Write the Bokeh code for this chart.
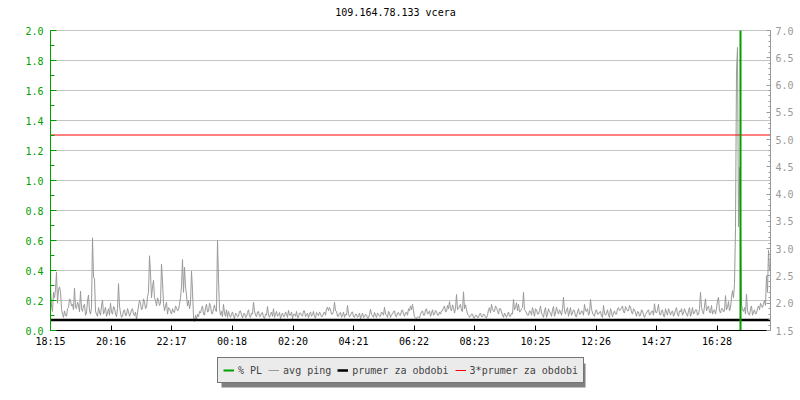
from bokeh.plotting import figure
from bokeh.models import (Range1d, LinearAxis, SingleIntervalTicker, FixedTicker,
                          PrintfTickFormatter, Legend, LegendItem, BoxAnnotation)
from bokeh.embed import file_html
from bokeh.resources import INLINE

# ---------------- data ----------------
title_text = "109.164.78.133 vcera"
start_label = "18:15"
period_minutes = 1440
tick_labels = ["18:15", "20:16", "22:17", "00:18", "02:20", "04:21",
               "06:22", "08:23", "10:25", "12:26", "14:27", "16:28"]

sample_minutes = 2  # one avg-ping sample every 2 minutes from 18:15 (one row = 1 hour)
ping_ms = [
    2.30, 1.95, 1.85, 2.20, 2.10, 2.25, 2.57, 2.00, 2.25, 2.30, 2.20, 1.90, 1.80, 1.74, 1.86,
    1.78, 1.76, 1.90, 1.92, 2.08, 2.05, 1.95, 1.98, 1.88, 2.28, 1.92, 1.90, 2.02, 1.97, 1.84,
    2.22, 1.90, 1.85, 1.96, 1.98, 1.78, 1.82, 2.04, 2.15, 1.86, 1.80, 1.92, 3.20, 2.48, 2.45,
    1.85, 1.80, 1.76, 1.92, 1.84, 1.78, 1.95, 2.06, 1.80, 1.85, 1.93, 1.76, 1.82, 1.90, 1.78,
    2.00, 1.84, 1.80, 1.94, 1.92, 1.80, 1.75, 1.90, 2.36, 1.95, 1.82, 1.74, 1.76, 1.86, 1.88,
    1.77, 1.78, 1.90, 1.85, 1.76, 1.80, 1.88, 1.90, 1.80, 1.77, 1.84, 1.70, 1.82, 1.95, 2.05,
    2.00, 1.88, 1.90, 2.08, 2.02, 1.90, 1.92, 2.12, 2.20, 2.87, 2.55, 2.10, 2.30, 2.42, 2.10,
    2.05, 1.95, 2.10, 2.05, 1.96, 2.00, 2.72, 2.40, 2.00, 1.86, 1.95, 2.02, 1.80, 1.92, 1.90,
    1.85, 1.80, 1.90, 1.84, 1.83, 1.95, 1.92, 1.86, 1.88, 1.98, 2.10, 2.31, 2.80, 2.20, 2.66,
    2.30, 2.15, 1.95, 2.05, 1.90, 2.00, 2.59, 2.23, 1.75, 1.66, 1.78, 1.70, 1.80, 1.75, 1.85,
    1.82, 1.90, 1.95, 1.80, 1.78, 1.92, 1.98, 1.84, 1.85, 2.00, 1.96, 1.82, 1.80, 1.90, 1.97,
    1.86, 1.85, 3.15, 2.43, 1.90, 1.78, 1.85, 1.75, 1.98, 1.82, 1.76, 1.88, 1.74, 1.85, 1.78,
    1.74, 1.80, 1.84, 1.76, 1.72, 1.82, 1.80, 1.75, 1.76, 1.85, 1.86, 1.78, 1.73, 1.80, 1.82,
    1.74, 1.75, 1.83, 1.88, 1.76, 1.74, 1.82, 1.80, 2.02, 1.86, 1.78, 1.75, 1.84, 1.85, 1.76,
    1.76, 1.82, 1.83, 1.74, 1.72, 1.80, 1.78, 1.94, 1.78, 1.74, 1.80, 1.84, 1.76, 1.90, 1.74,
    1.80, 1.85, 1.76, 1.78, 1.83, 1.72, 1.78, 1.82, 1.75, 1.76, 1.84, 1.80, 1.74, 1.87, 1.78,
    1.78, 1.84, 1.72, 1.80, 1.80, 1.76, 1.85, 1.74, 1.74, 1.82, 1.82, 1.78, 1.76, 1.86, 1.86,
    1.75, 1.78, 1.82, 1.73, 1.80, 1.84, 1.76, 1.79, 1.85, 1.75, 1.73, 1.83, 1.80, 1.77, 1.84,
    1.80, 1.75, 1.76, 1.82, 1.84, 1.78, 1.90, 1.93, 1.86, 1.92, 1.88, 1.80, 1.80, 1.85, 2.02,
    1.86, 1.85, 1.76, 1.76, 1.82, 1.83, 1.74, 1.78, 1.84, 1.74, 1.80, 1.78, 1.96, 1.80, 1.75,
    1.78, 1.83, 1.84, 1.75, 1.74, 1.80, 1.80, 1.74, 1.76, 1.82, 1.72, 1.77, 1.82, 1.74, 1.75,
    1.80, 1.78, 1.73, 1.73, 1.79, 1.89, 1.80, 1.77, 1.74, 1.83, 1.78, 1.74, 1.82, 1.80, 1.76,
    1.76, 1.84, 1.82, 1.78, 1.93, 1.80, 1.78, 1.74, 1.85, 1.82, 1.74, 1.79, 1.80, 1.85, 1.86,
    1.76, 1.75, 1.82, 1.83, 1.78, 1.78, 1.86, 1.88, 1.80, 1.76, 1.82, 1.84, 1.78, 1.90, 1.86,
    1.95, 1.88, 1.98, 1.86, 1.75, 1.73, 1.72, 1.75, 1.74, 1.73, 1.80, 1.84, 1.86, 1.78, 1.78,
    1.88, 1.90, 1.80, 1.82, 1.86, 1.76, 1.82, 1.88, 1.78, 1.80, 1.87, 1.85, 1.78, 1.78, 1.84,
    1.80, 1.86, 1.86, 1.92, 1.95, 1.84, 1.85, 1.96, 1.90, 2.03, 1.90, 1.86, 1.97, 1.92, 1.82,
    1.90, 2.16, 1.88, 1.90, 1.95, 1.98, 1.86, 1.85, 2.21, 1.90, 1.97, 1.88, 1.80, 1.78, 1.74,
    1.76, 1.80, 1.80, 1.73, 1.73, 1.78, 1.78, 1.74, 1.74, 1.80, 1.82, 1.75, 1.75, 1.80, 1.79,
    1.74, 1.73, 1.78, 1.88, 1.92, 1.82, 1.98, 1.90, 1.85, 1.85, 1.95, 1.92, 1.86, 1.80, 1.90,
    1.90, 1.84, 1.78, 1.74, 1.82, 1.78, 1.74, 1.80, 1.84, 1.76, 1.76, 1.82, 1.80, 2.07, 1.88,
    1.92, 2.01, 1.86, 1.98, 1.84, 1.85, 1.90, 1.92, 2.20, 1.88, 1.86, 1.82, 1.78, 1.78, 1.86,
    1.85, 1.78, 1.92, 1.84, 1.76, 1.90, 1.88, 1.80, 1.80, 1.86, 1.95, 1.82, 1.78, 1.74, 1.86,
    1.92, 1.74, 1.80, 1.90, 1.84, 1.82, 1.76, 1.88, 1.94, 1.76, 1.82, 1.93, 1.85, 1.80, 1.88,
    1.84, 1.78, 1.90, 2.11, 1.86, 1.80, 1.88, 1.92, 1.76, 1.84, 1.92, 1.78, 1.82, 1.88, 1.86,
    1.76, 1.75, 1.84, 1.90, 1.80, 1.80, 1.86, 1.85, 1.78, 1.98, 1.86, 1.85, 1.90, 1.78, 1.82,
    2.07, 1.90, 1.82, 1.78, 1.76, 1.86, 1.88, 1.80, 1.80, 1.84, 1.85, 1.76, 1.74, 1.96, 1.82,
    1.78, 1.82, 1.88, 1.78, 1.74, 1.90, 1.84, 1.75, 1.82, 1.86, 1.80, 1.80, 1.90, 1.92, 1.86,
    1.88, 1.92, 1.95, 1.84, 1.82, 1.94, 1.90, 1.86, 1.86, 1.96, 1.93, 1.84, 1.80, 1.90, 1.88,
    1.82, 1.76, 1.85, 1.84, 1.76, 1.78, 1.88, 1.86, 1.78, 1.74, 1.80, 1.82, 1.86, 1.88, 1.78,
    1.80, 1.85, 1.86, 1.78, 1.99, 1.84, 1.82, 1.88, 1.98, 1.80, 1.78, 1.86, 1.88, 1.76, 1.75,
    1.90, 1.84, 1.78, 1.90, 1.85, 1.78, 1.84, 1.86, 1.76, 1.80, 1.88, 1.92, 1.80, 1.76, 1.86,
    1.84, 1.90, 1.78, 1.82, 1.90, 1.84, 1.80, 1.76, 1.86, 1.92, 1.76, 1.82, 1.92, 1.80, 1.82,
    1.88, 1.88, 1.78, 1.80, 1.90, 2.20, 1.92, 1.85, 1.80, 1.95, 2.08, 1.86, 1.92, 1.95, 1.84,
    1.82, 1.96, 1.80, 1.86, 1.88, 1.80, 1.90, 2.05, 2.11, 1.86, 1.82, 1.90, 1.90, 1.84, 1.86,
    2.14, 1.88, 1.92, 2.03, 1.86, 1.92, 2.10, 2.23, 2.10, 2.36, 3.37, 6.27, 6.69, 3.40, 4.49,
    3.37, 1.97, 1.88, 1.85, 1.92, 1.80, 2.17, 1.86, 1.80, 1.78, 1.90, 1.95, 1.78, 1.84, 1.88,
    1.80, 1.82, 1.90, 1.95, 1.88, 2.00, 1.94, 1.92, 2.00, 2.05, 1.96, 2.50, 2.20, 2.97, 2.60,
]

# packet loss: non-zero samples only (everything else is 0 %)
pl_labels = ["17:15"]
pl_values = [10.0]

prumer = 1.6947         # average ping for the period
three_prumer = 3 * prumer

legend_labels = ["% PL", "avg ping", "prumer za obdobi", "3*prumer za obdobi"]

# ---------------- helpers ----------------
def minutes_after_start(label):
    h, m = map(int, label.split(":"))
    h0, m0 = map(int, start_label.split(":"))
    return ((h * 60 + m) - (h0 * 60 + m0)) % period_minutes

ping_t = [i * sample_minutes for i in range(len(ping_ms))]
pl_t = [minutes_after_start(s) for s in pl_labels]
tick_pos = [minutes_after_start(s) for s in tick_labels]

GREEN = "#00a000"
GRAY = "#999999"
FONT = "DejaVu Sans Mono"

# ---------------- layout ----------------
# The data area (0..2 % PL / 1.5..7 ms, 18:15..18:15) is 720 x 300 px at (50, 30).
# The frame is made larger than that so that the axis labels and the legend,
# which live inside the frame, are not clipped.
W, H = 800, 400
PLOT_L, PLOT_T, PLOT_W, PLOT_H = 50, 30, 720, 300
B_LEFT, B_RIGHT, B_TOP, B_BOTTOM = 20, W - (PLOT_L + PLOT_W), 18, 5
pl_lo, pl_hi = 0.0, 2.0
ping_lo, ping_hi = 1.5, 7.0

min_per_px = period_minutes / PLOT_W
x_start = -(PLOT_L - B_LEFT) * min_per_px
pl_per_px = (pl_hi - pl_lo) / PLOT_H
ping_per_px = (ping_hi - ping_lo) / PLOT_H
below_px = H - B_BOTTOM - (PLOT_T + PLOT_H)
above_px = PLOT_T - B_TOP

p = figure(width=W, height=H,
           x_range=Range1d(x_start, period_minutes),
           y_range=Range1d(pl_lo - below_px * pl_per_px, pl_hi + above_px * pl_per_px),
           output_backend="svg", toolbar_location=None,
           min_border_left=B_LEFT, min_border_right=B_RIGHT,
           min_border_top=B_TOP, min_border_bottom=B_BOTTOM,
           title=title_text)
p.extra_y_ranges = {"ping": Range1d(ping_lo - below_px * ping_per_px,
                                    ping_hi + above_px * ping_per_px)}
p.outline_line_color = None
p.background_fill_color = "white"
p.border_fill_color = "white"

p.title.align = "center"
p.title.text_font = FONT
p.title.text_font_size = "10px"
p.title.text_font_style = "normal"
p.title.text_color = "black"
p.title.standoff = 1

# left axis (% PL), drawn at 18:15
lt = SingleIntervalTicker(interval=0.2, num_minor_ticks=2)
ya = p.yaxis[0]
ya.fixed_location = 0
ya.ticker = lt
ya.bounds = (pl_lo, pl_hi)
ya.formatter = PrintfTickFormatter(format="%.1f")
ya.axis_line_color = GREEN
ya.major_tick_line_color = GREEN
ya.minor_tick_line_color = GREEN
ya.major_label_text_color = GREEN
ya.major_tick_in = 6
ya.major_tick_out = 0
ya.minor_tick_in = 4
ya.minor_tick_out = 0
ya.major_label_standoff = 7
ya.major_label_text_font = FONT
ya.major_label_text_font_size = "10px"

grid = p.ygrid[0]
grid.ticker = lt
grid.bounds = (pl_lo, pl_hi)
if "cross_bounds" in grid.properties():
    grid.cross_bounds = (0, period_minutes)
grid.grid_line_color = "#c4c4c4"
p.xgrid.visible = False

# right axis (ping)
ra = LinearAxis(y_range_name="ping",
                ticker=SingleIntervalTicker(interval=0.5, num_minor_ticks=5),
                formatter=PrintfTickFormatter(format="%.1f"),
                bounds=(ping_lo, ping_hi))
ra.axis_line_color = GRAY
ra.major_tick_line_color = GRAY
ra.minor_tick_line_color = GRAY
ra.major_label_text_color = GRAY
ra.major_tick_in = 4
ra.major_tick_out = 0
ra.minor_tick_in = 2
ra.minor_tick_out = 0
ra.major_label_standoff = 5
ra.major_label_text_font = FONT
ra.major_label_text_font_size = "10px"
p.add_layout(ra, "right")

# bottom axis (time), drawn at the zero line
xa = p.xaxis[0]
xa.fixed_location = pl_lo
xa.bounds = (0, period_minutes)
xa.ticker = FixedTicker(ticks=tick_pos, minor_ticks=[])
xa.major_label_overrides = {t: s for t, s in zip(tick_pos, tick_labels)}
xa.axis_line_color = "black"
xa.major_tick_line_color = "black"
xa.major_tick_in = 5
xa.major_tick_out = 0
xa.minor_tick_line_color = None
xa.major_label_standoff = 5
xa.major_label_text_font = FONT
xa.major_label_text_font_size = "10px"
xa.major_label_text_color = "black"

# glyphs
r_ping = p.line(ping_t, ping_ms, y_range_name="ping", line_color=GRAY, line_width=1)
r_mean = p.line([0, period_minutes], [prumer, prumer], y_range_name="ping",
                line_color="black", line_width=2.5)
r_3mean = p.line([0, period_minutes], [three_prumer, three_prumer], y_range_name="ping",
                 line_color="#ff0000", line_width=1)
r_pl = p.segment(x0=pl_t, y0=[pl_lo] * len(pl_t), x1=pl_t,
                 y1=[min(v, pl_hi) for v in pl_values],   # graph is rigid at 2.0
                 line_color=GREEN, line_width=2)

# legend shadow + legend (canvas pixels)
LEG_L, LEG_T, LEG_B, SHADOW = 217, 359, 383, 4
shadow = BoxAnnotation(left=LEG_L + SHADOW, right=581 + SHADOW,
                       top=LEG_T + SHADOW, bottom=LEG_B + SHADOW,
                       left_units="canvas", right_units="canvas",
                       top_units="canvas", bottom_units="canvas",
                       fill_color="#808080", fill_alpha=1.0, line_color=None)
p.add_layout(shadow)

legend = Legend(items=[LegendItem(label=legend_labels[0], renderers=[r_pl]),
                       LegendItem(label=legend_labels[1], renderers=[r_ping]),
                       LegendItem(label=legend_labels[2], renderers=[r_mean]),
                       LegendItem(label=legend_labels[3], renderers=[r_3mean])],
                orientation="horizontal",
                location=(LEG_L - B_LEFT, (H - B_BOTTOM) - LEG_B),
                padding=5, margin=0, spacing=6, label_standoff=4,
                glyph_width=11, glyph_height=14, label_height=14,
                label_text_font=FONT, label_text_font_size="10px",
                background_fill_color="#ebebeb", background_fill_alpha=1.0,
                border_line_color="black", border_line_width=1)
p.add_layout(legend, "center")

open("out.html", "w").write(file_html(p, INLINE))
